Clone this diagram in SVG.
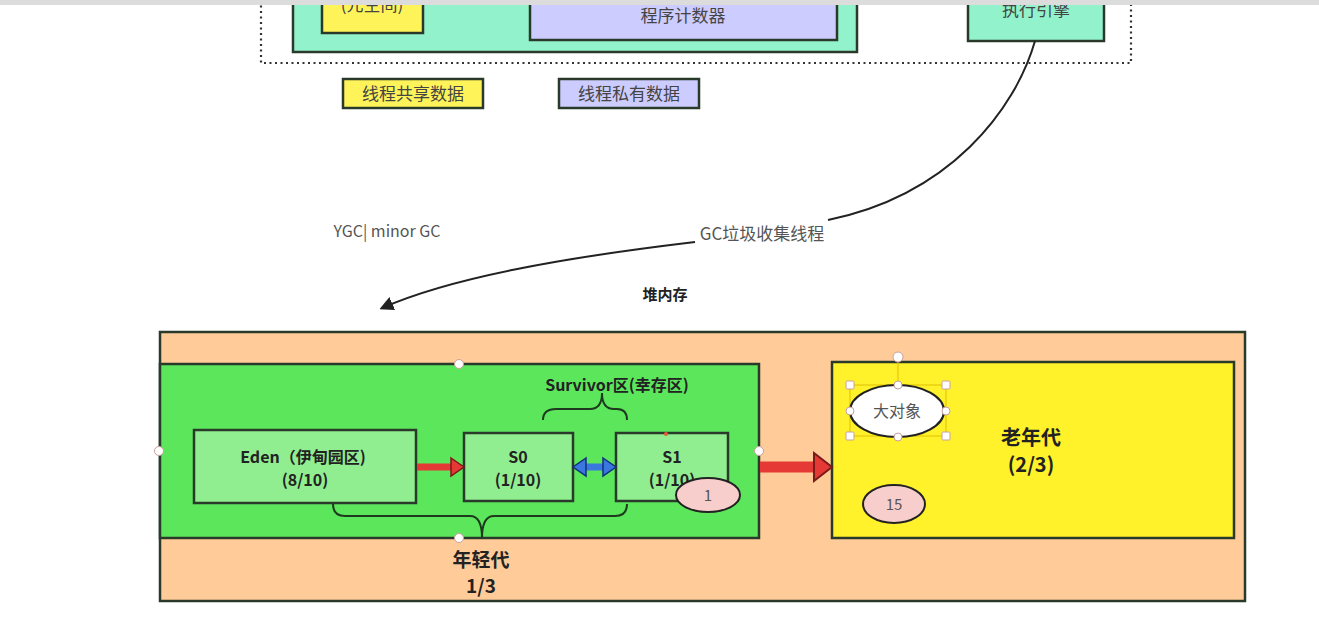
<svg xmlns="http://www.w3.org/2000/svg" width="1319" height="622" viewBox="0 0 1319 622">
<defs>
<style>
text{font-family:"Noto Sans CJK SC","Liberation Sans",sans-serif;text-anchor:middle;}
.box{stroke:#2a3a2a;stroke-width:2.5;}
.lbl{font-size:17px;fill:#444;}
.bold{font-weight:bold;fill:#222;}
.brace{fill:none;stroke:#1e3a1e;stroke-width:2;}
.handle{fill:#fff;stroke:#c9a0a0;stroke-width:1;}
</style>
<marker id="ah" viewBox="0 0 10 10" refX="8" refY="5" markerWidth="7" markerHeight="7" orient="auto"><path d="M0,0 L10,5 L0,10 z" fill="#222"/></marker>
</defs>
<rect width="1319" height="622" fill="#fff"/>

<g id="top-area">
<rect x="261" y="-50" width="870" height="113" fill="none" stroke="#333" stroke-width="2.2" stroke-dasharray="2 3.5"/>
<rect class="box" x="293" y="-40" width="564" height="92" fill="#92F2CB"/>
<g id="metaspace"><rect class="box" x="322" y="-30" width="101" height="63" fill="#FFF35A"/><text class="lbl" x="372" y="11">(元空间)</text></g>
<g id="pc"><rect class="box" x="530" y="-20" width="307" height="60" fill="#CCCCFF"/><text class="lbl" x="683" y="22" font-size="18">程序计数器</text></g>
<g id="engine"><rect class="box" x="968" y="-30" width="136" height="71" fill="#92F2CB"/><text class="lbl" x="1036" y="16">执行引擎</text></g>
</g>
<rect x="0" y="0" width="1319" height="5" fill="#dcdcdc"/>

<g id="legend-shared"><rect class="box" x="343" y="79" width="140" height="29" fill="#FFF35A" stroke-width="2"/><text class="lbl" x="413" y="100" font-size="16">线程共享数据</text></g>
<g id="legend-private"><rect class="box" x="559" y="79" width="140" height="29" fill="#CCCCFF" stroke-width="2"/><text class="lbl" x="629" y="100" font-size="16">线程私有数据</text></g>

<g id="labels">
<text x="387" y="237" font-size="16" fill="#555">YGC| minor GC</text>
<text x="762" y="240" font-size="17" fill="#555">GC垃圾收集线程</text>
<text x="665" y="300" font-size="15" class="bold">堆内存</text>
</g>

<g id="heap"><rect class="box" x="160" y="332" width="1085" height="269" fill="#FFCC99"/></g>

<g id="young">
<rect class="box" x="160" y="364" width="599" height="174" fill="#5CE65C"/>
<circle class="handle" cx="459" cy="364" r="4.5"/>
<circle class="handle" cx="159" cy="451" r="4.5"/>
<circle class="handle" cx="459" cy="538" r="4.5"/>
<text class="bold" x="481" y="567" font-size="19">年轻代</text>
<text class="bold" x="481" y="593" font-size="19">1/3</text>
</g>

<g id="eden"><rect class="box" x="194" y="430" width="222" height="73" fill="#90EE90"/><text class="bold" x="303" y="463" font-size="16">Eden（伊甸园区)</text><text class="bold" x="305" y="486" font-size="16">(8/10)</text></g>
<g id="s0"><rect class="box" x="464" y="433" width="109" height="68" fill="#90EE90"/><text class="bold" x="518" y="463" font-size="16">S0</text><text class="bold" x="518" y="486" font-size="16">(1/10)</text></g>
<g id="s1"><rect class="box" x="616" y="433" width="112" height="68" fill="#90EE90"/><text class="bold" x="672" y="463" font-size="16">S1</text><text class="bold" x="672" y="486" font-size="16">(1/10)</text><circle cx="666" cy="434" r="2" fill="#e53"/></g>

<g id="survivor-brace">
<path class="brace" d="M543,420 Q543,409 556,409 L590,409 Q602,409 602,393 Q602,409 614,409 L617,409 Q627,409 627,420"/>
<text class="bold" x="617" y="391" font-size="16">Survivor区(幸存区)</text>
</g>
<g id="young-brace">
<path class="brace" d="M333,504 Q333,516 345,516 L470,516 Q482,516 482,538 Q482,516 494,516 L615,516 Q627,516 627,504"/>
</g>

<g id="age1"><ellipse cx="708" cy="495" rx="32" ry="17" fill="#F8CECC" stroke="#222" stroke-width="2"/><text x="708" y="501" font-size="15" fill="#555">1</text></g>

<g id="old">
<rect class="box" x="832" y="362" width="402" height="176" fill="#FFF12A"/>
<text class="bold" x="1031" y="445" font-size="20">老年代</text>
<text class="bold" x="1031" y="472" font-size="20">(2/3)</text>
</g>

<g id="connectors">
<path d="M1035,41 C1015,110 950,195 828,220" fill="none" stroke="#222" stroke-width="2"/>
<path d="M695,242 C560,258 450,278 382,308" fill="none" stroke="#222" stroke-width="2" marker-end="url(#ah)"/>
<path d="M417,467 H452" stroke="#E53935" stroke-width="7" fill="none"/>
<path d="M451,458 L464,467 L451,476 z" fill="#E53935" stroke="#7a1a1a" stroke-width="1.5"/>
<path d="M585,467 H604" stroke="#3a78e0" stroke-width="7" fill="none"/>
<path d="M586,458 L573,467 L586,476 z" fill="#3a78e0" stroke="#12307a" stroke-width="1.5"/>
<path d="M603,458 L616,467 L603,476 z" fill="#3a78e0" stroke="#12307a" stroke-width="1.5"/>
<path d="M760,467 H815" stroke="#E53935" stroke-width="11" fill="none"/>
<path d="M814,453 L832,467 L814,481 z" fill="#E53935" stroke="#7a1a1a" stroke-width="2"/>
</g>
<circle class="handle" cx="759" cy="451" r="4.5"/>

<g id="bigobj">
<rect x="850" y="385" width="96" height="51" fill="none" stroke="#e0c000" stroke-width="1"/>
<line x1="898" y1="357" x2="898" y2="385" stroke="#e0c000" stroke-width="1"/>
<ellipse cx="897" cy="411" rx="47" ry="26" fill="#fff" stroke="#222" stroke-width="2.2"/>
<text x="897" y="417" font-size="16" fill="#555">大对象</text>
<circle class="handle" cx="898" cy="357" r="5"/>
<rect class="handle" x="846" y="381" width="8" height="8" rx="1"/>
<rect class="handle" x="942" y="381" width="8" height="8" rx="1"/>
<rect class="handle" x="846" y="432" width="8" height="8" rx="1"/>
<rect class="handle" x="942" y="432" width="8" height="8" rx="1"/>
<circle class="handle" cx="898" cy="385" r="4"/>
<circle class="handle" cx="898" cy="437" r="4"/>
<circle class="handle" cx="850" cy="411" r="4"/>
<circle class="handle" cx="946" cy="411" r="4"/>
</g>

<g id="age15"><ellipse cx="894" cy="504" rx="31" ry="19" fill="#F8CECC" stroke="#222" stroke-width="2"/><text x="894" y="510" font-size="15" fill="#555">15</text></g>
</svg>
